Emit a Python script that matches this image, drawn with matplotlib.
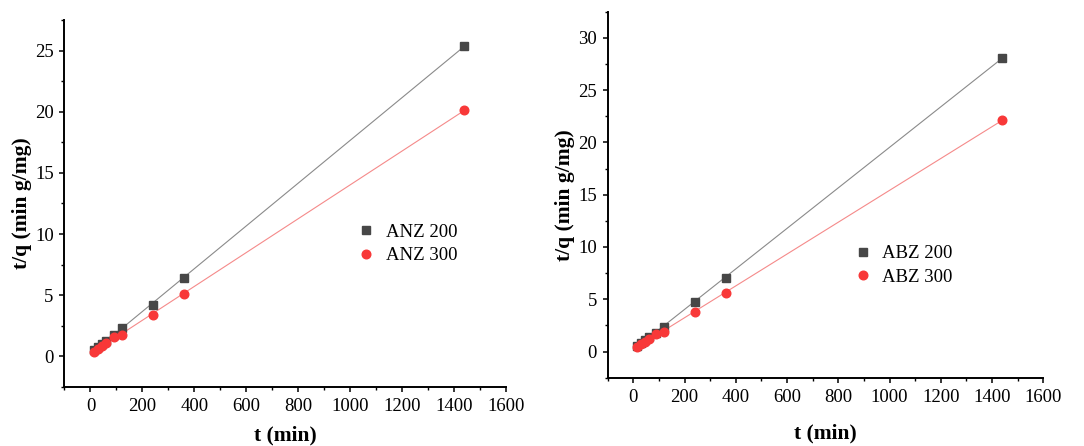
import numpy as np
import matplotlib.pyplot as plt
from matplotlib.ticker import MultipleLocator

# contact time (min) and t/q values for the two adsorbents
t_min = [15, 30, 45, 60, 90, 120, 240, 360, 1440]

anz_200 = [0.50, 0.75, 1.00, 1.28, 1.75, 2.30, 4.20, 6.38, 25.40]
anz_300 = [0.35, 0.62, 0.88, 1.12, 1.58, 1.75, 3.38, 5.07, 20.15]

abz_200 = [0.55, 0.85, 1.10, 1.35, 1.82, 2.35, 4.76, 7.04, 28.10]
abz_300 = [0.40, 0.68, 0.92, 1.20, 1.65, 1.90, 3.79, 5.58, 22.15]

GREY = "#474747"
RED = "#f83838"

plt.rcParams["font.family"] = ["Liberation Serif", "DejaVu Serif"]


def draw_panel(ax, s200, s300, names, ylim, ymajor, xpad):
    t = np.array(t_min, dtype=float)
    for vals, color, marker, ms, name, lcol in [
        (s200, GREY, "s", 5.6, names[0], "#8a8a8a"),
        (s300, RED, "o", 6.2, names[1], "#f58a8a"),
    ]:
        vals = np.array(vals)
        slope, icpt = np.polyfit(t, vals, 1)
        ax.plot(t[[0, -1]], slope * t[[0, -1]] + icpt, color=lcol, lw=0.8, zorder=1)
        ax.plot(t, vals, ls="none", marker=marker, ms=ms, color=color,
                mec=color, label=name, zorder=3)

    ax.set_xlim(-100, 1600)
    ax.set_ylim(*ylim)
    ax.xaxis.set_minor_locator(MultipleLocator(100))
    ax.yaxis.set_minor_locator(MultipleLocator(ymajor / 2))
    ax.set_xticks(np.arange(0, 1601, 200))
    ax.set_yticks(np.arange(0, ylim[1], ymajor))

    for side in ("top", "right"):
        ax.spines[side].set_visible(False)
    for side in ("left", "bottom"):
        ax.spines[side].set_linewidth(1.4)
    ax.tick_params(which="major", direction="out", length=3.8, width=1.1,
                   labelsize=13.5, pad=4)
    ax.tick_params(which="minor", direction="out", length=2.3, width=1.0)

    ax.set_xlabel("t (min)", fontsize=15.5, fontweight="bold", labelpad=xpad)
    ax.set_ylabel("t/q (min g/mg)", fontsize=15.5, fontweight="bold", labelpad=2)


fig = plt.figure(figsize=(10.84, 4.46), dpi=100)

ax1 = fig.add_axes([0.0595, 0.1323, 0.4073, 0.8229])
draw_panel(ax1, anz_200, anz_300, ["ANZ 200", "ANZ 300"], (-2.5, 27.5), 5, 8)
ax1.legend(loc="center left", bbox_to_anchor=(0.657, 0.39), frameon=False,
           fontsize=13.5, handletextpad=0.5, labelspacing=0.35, handlelength=1.2,
           borderaxespad=0, borderpad=0)

ax2 = fig.add_axes([0.5606, 0.1531, 0.4019, 0.8207])
draw_panel(ax2, abz_200, abz_300, ["ABZ 200", "ABZ 300"], (-2.5, 32.5), 5, 13)
ax2.legend(loc="center left", bbox_to_anchor=(0.561, 0.307), frameon=False,
           fontsize=13.5, handletextpad=0.4, labelspacing=0.35, handlelength=1.2,
           borderaxespad=0, borderpad=0)

fig.savefig("out.png", dpi=100)
